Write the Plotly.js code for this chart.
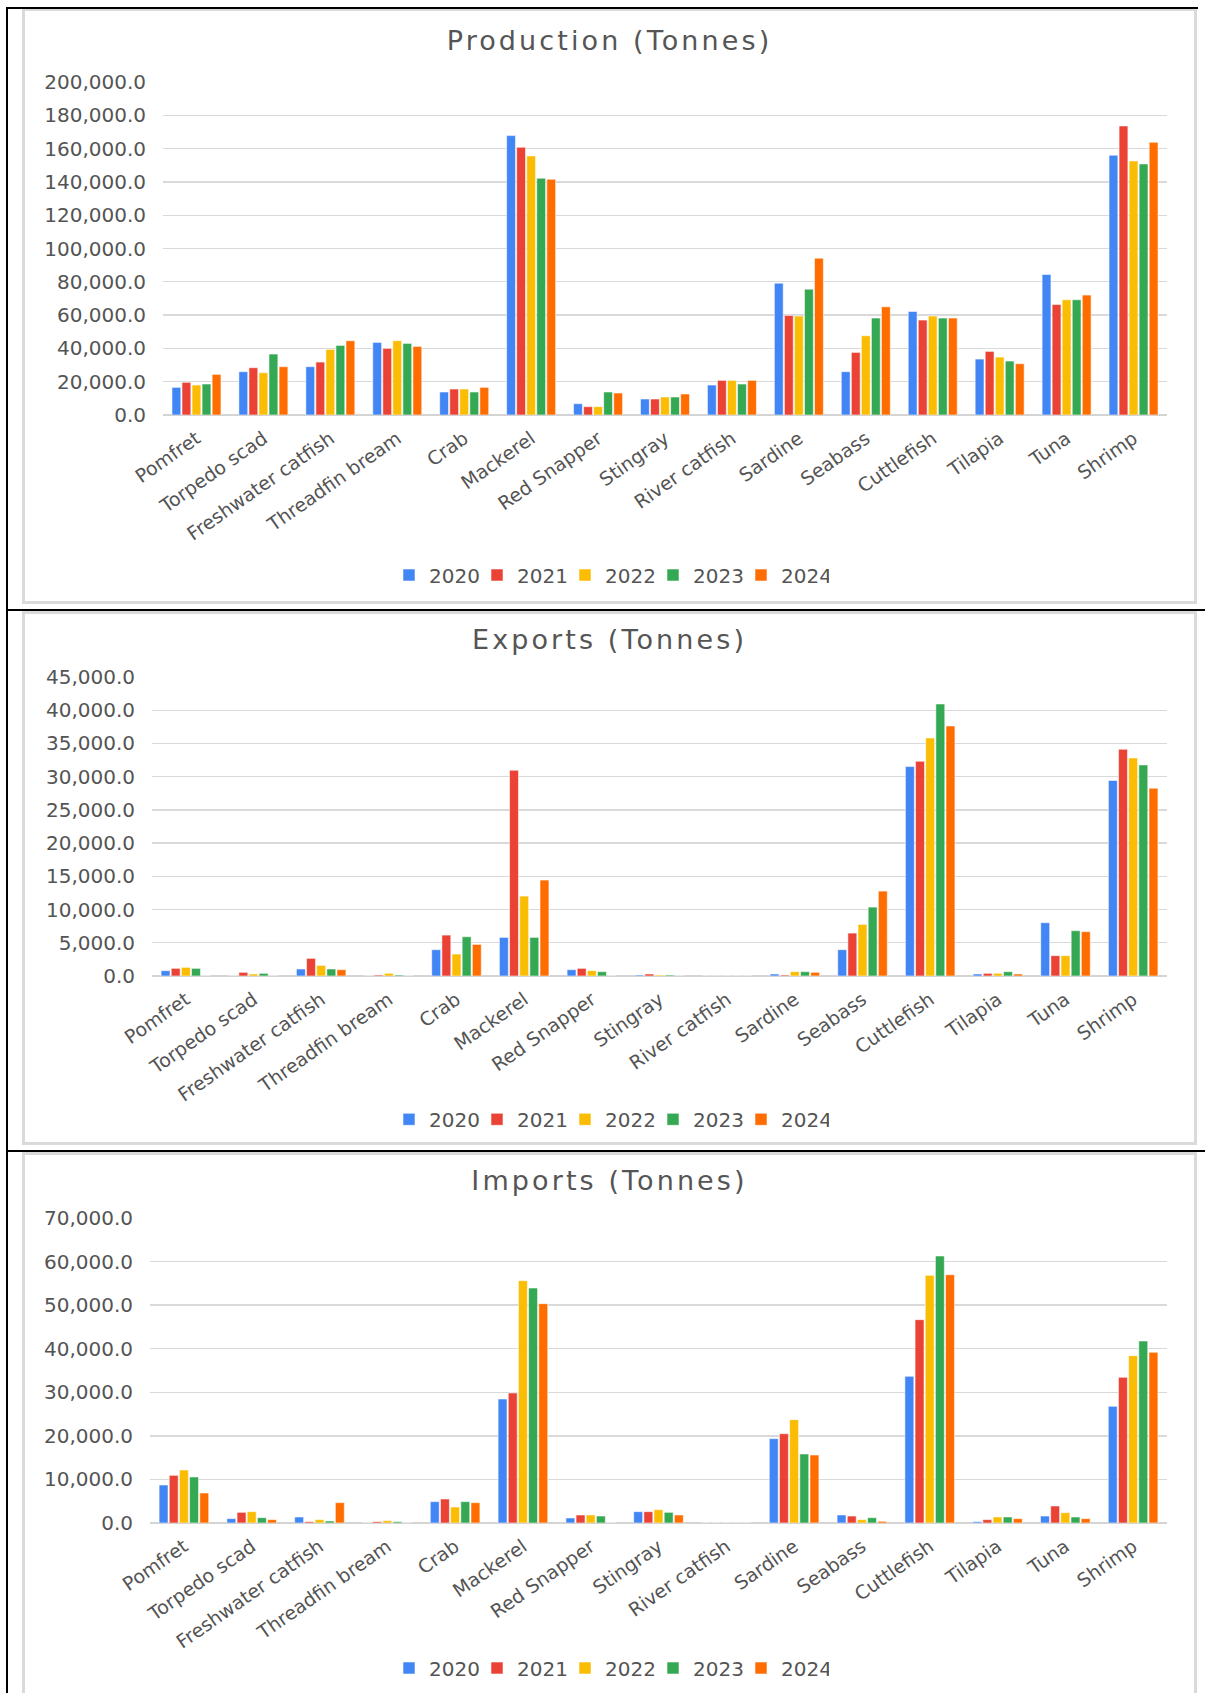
<!DOCTYPE html>
<html>
<head>
<meta charset="utf-8">
<script src="https://cdn.plot.ly/plotly-3.0.1.min.js"></script>
<style>
html,body{margin:0;padding:0;background:#fff;}
#page{position:relative;width:1205px;height:1693px;overflow:hidden;background:#fff;}
.plot{position:absolute;left:0;width:1205px;}
.ln{position:absolute;background:#000;pointer-events:none;}
.box{position:absolute;border:3px solid #dadada;box-sizing:border-box;pointer-events:none;}
.gtitle{letter-spacing:3.1px;}
</style>
</head>
<body>
<div id="page">
  <div class="box" style="left:22px;top:8px;width:1175px;height:596px"></div>
  <div class="box" style="left:22px;top:611px;width:1175px;height:534px"></div>
  <div class="box" style="left:22px;top:1152px;width:1175px;height:560px"></div>
  <div id="p1" class="plot" style="top:0px;height:605px"></div>
  <div id="p2" class="plot" style="top:605px;height:545px"></div>
  <div id="p3" class="plot" style="top:1150px;height:543px"></div>
  <div class="ln" style="left:6px;top:7px;width:1192px;height:2px"></div>
  <div class="ln" style="left:6px;top:7px;width:2px;height:1686px"></div>
  <div class="ln" style="left:6px;top:609px;width:1199px;height:2px"></div>
  <div class="ln" style="left:6px;top:1150px;width:1199px;height:2px"></div>
</div>
<script>
// ---- data ----
const categories = ['Pomfret','Torpedo scad','Freshwater catfish','Threadfin bream','Crab','Mackerel','Red Snapper','Stingray','River catfish','Sardine','Seabass','Cuttlefish','Tilapia','Tuna','Shrimp'];
const years = ['2020','2021','2022','2023','2024'];
const colors = ['#4285F4','#EA4335','#FBBC04','#34A853','#FF6D01'];

const production2020 = [16600, 26000, 29000, 43600, 13800, 167800, 6800, 9600, 18000, 79200, 26000, 62200, 33600, 84400, 156000];
const production2021 = [19600, 28400, 31800, 40000, 15600, 160800, 5000, 9600, 20800, 59800, 37600, 57000, 38200, 66400, 173600];
const production2022 = [18000, 25400, 39400, 44600, 15600, 155600, 5000, 10800, 20800, 59400, 47600, 59400, 34800, 69200, 152600];
const production2023 = [18600, 36600, 41800, 43000, 13800, 142200, 13800, 10800, 18600, 75600, 58200, 58200, 32400, 69200, 150800];
const production2024 = [24400, 29000, 44600, 41200, 16600, 141600, 13200, 12600, 20800, 94200, 65000, 58200, 30800, 72000, 163800];

const exports2020 = [800, 0, 1050, 0, 3960, 5810, 950, 150, 0, 300, 3960, 31520, 300, 8020, 29420];
const exports2021 = [1150, 550, 2650, 150, 6160, 30970, 1150, 300, 0, 150, 6460, 32320, 400, 3060, 34130];
const exports2022 = [1300, 300, 1600, 400, 3300, 12030, 800, 150, 0, 650, 7770, 35830, 400, 3060, 32820];
const exports2023 = [1150, 400, 1050, 150, 5910, 5810, 650, 150, 0, 650, 10370, 40940, 650, 6820, 31770];
const exports2024 = [0, 0, 950, 0, 4760, 14430, 0, 0, 0, 550, 12780, 37630, 300, 6670, 28260];

const imports2020 = [8720, 1000, 1380, 0, 4900, 28460, 1150, 2600, 0, 19360, 1840, 33660, 300, 1600, 26780];
const imports2021 = [10940, 2450, 300, 300, 5510, 29840, 1840, 2600, 0, 20500, 1600, 46670, 770, 3900, 33430];
const imports2022 = [12160, 2600, 770, 540, 3670, 55620, 1840, 3060, 0, 23720, 770, 56840, 1380, 2370, 38400];
const imports2023 = [10560, 1220, 460, 300, 4900, 53930, 1600, 2450, 0, 15840, 1220, 61280, 1380, 1380, 41770];
const imports2024 = [6890, 770, 4670, 0, 4670, 50340, 0, 1840, 0, 15610, 380, 56990, 1000, 1000, 39170];

const productionSeries = [production2020, production2021, production2022, production2023, production2024];
const exportsSeries = [exports2020, exports2021, exports2022, exports2023, exports2024];
const importsSeries = [imports2020, imports2021, imports2022, imports2023, imports2024];

// ---- drawing ----
const FONT = 'DejaVu Sans';
const TXT = '#545454';
function traces(series){
  return series.map((vals, i) => ({
    type:'bar', name:years[i], x:categories, y:vals,
    marker:{color:colors[i], line:{color:'rgba(255,255,255,0.55)', width:1}},
    hoverinfo:'skip'
  }));
}
function layout(cfg){
  return {
    width:1205, height:cfg.h,
    margin:{l:cfg.l, r:38, t:cfg.t, b:cfg.b, pad:0},
    paper_bgcolor:'rgba(0,0,0,0)', plot_bgcolor:'rgba(0,0,0,0)',
    font:{family:FONT, size:20, color:TXT},
    title:{text:cfg.title, font:{family:FONT, size:27, color:'#555555'},
           x:609.5/1205, xref:'container', xanchor:'center',
           y:1 - cfg.titleY/cfg.h, yref:'container', yanchor:'middle'},
    barmode:'group', bargap:0.25, bargroupgap:0.12,
    xaxis:{type:'category', tickangle:-35, showgrid:false, zeroline:false, showline:false,
           ticks:'', ticklabelstandoff:8, tickfont:{family:FONT, size:19, color:TXT},
           automargin:false, fixedrange:true},
    yaxis:{range:[0, cfg.max], dtick:cfg.dtick, tick0:0, tickformat:',.1f',
           showgrid:true, gridcolor:'#d9d9d9', gridwidth:1.4,
           zeroline:true, zerolinecolor:'#d4d4d4', zerolinewidth:1.4, showline:false,
           ticks:'', ticklabelstandoff:16, tickfont:{family:FONT, size:20, color:TXT},
           automargin:false, fixedrange:true},
    legend:{orientation:'h', x:609/1205, xref:'container', xanchor:'center',
            y:1 - cfg.legY/cfg.h, yref:'container', yanchor:'middle',
            font:{family:FONT, size:20, color:TXT}, entrywidth:43, traceorder:'normal'},
    showlegend:true
  };
}
const config = {staticPlot:true, displayModeBar:false};

Plotly.newPlot('p1', traces(productionSeries), layout({
  h:605, l:163, t:81.7, b:190, max:200000, dtick:20000,
  title:'Production (Tonnes)', titleY:40.5, legY:575
}), config);

Plotly.newPlot('p2', traces(exportsSeries), layout({
  h:545, l:151.5, t:71.7, b:174, max:45000, dtick:5000,
  title:'Exports (Tonnes)', titleY:34.5, legY:514.3
}), config);

Plotly.newPlot('p3', traces(importsSeries), layout({
  h:543, l:150.4, t:68.3, b:169.7, max:70000, dtick:10000,
  title:'Imports (Tonnes)', titleY:31, legY:518
}), config);
</script>
</body>
</html>
